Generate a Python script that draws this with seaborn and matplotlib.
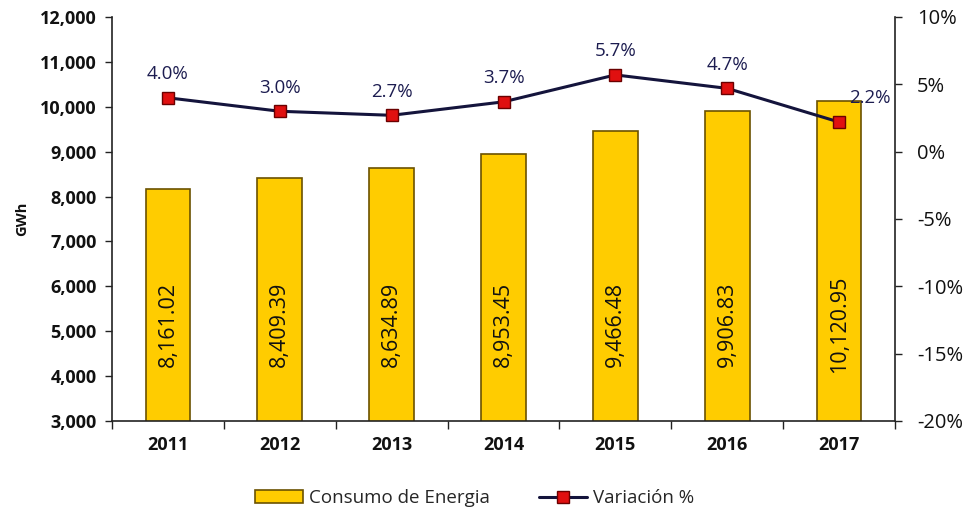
import matplotlib
matplotlib.use("Agg")
import matplotlib.pyplot as plt
import seaborn as sns
import numpy as np
import pandas as pd
from matplotlib.ticker import FuncFormatter, FixedLocator
from matplotlib.patches import Patch
from matplotlib.lines import Line2D

years = ["2011", "2012", "2013", "2014", "2015", "2016", "2017"]
consumo = [8161.02, 8409.39, 8634.89, 8953.45, 9466.48, 9906.83, 10120.95]
variacion = [4.0, 3.0, 2.7, 3.7, 5.7, 4.7, 2.2]
bar_labels = ["8,161.02", "8,409.39", "8,634.89", "8,953.45", "9,466.48", "9,906.83", "10,120.95"]
var_labels = ["4.0%", "3.0%", "2.7%", "3.7%", "5.7%", "4.7%", "2.2%"]

sns.set_theme(style="white")
plt.rcParams["font.family"] = ["Open Sans", "DejaVu Sans"]

df = pd.DataFrame({"year": years, "consumo": consumo, "variacion": variacion})

fig = plt.figure(figsize=(9.68, 5.14), dpi=100)
ax = fig.add_axes([112/968, 1-421/514, (895-112)/968, (421-17)/514])

sns.barplot(data=df, x="year", y="consumo", ax=ax, color="#FFCC00",
            width=0.4, edgecolor="#6b5200", linewidth=1.2, saturation=1)
ax.set_ylim(3000, 12000)
ax.set_xlim(-0.5, len(years) - 0.5)
ax.set_yticks(np.arange(3000, 12001, 1000))
ax.yaxis.set_major_formatter(FuncFormatter(lambda v, p: f"{int(v):,}"))
ax.set_xlabel("")
ax.set_ylabel("GWh", fontsize=10.5, fontweight="bold", color="#111111", labelpad=8)
for lab in ax.get_yticklabels():
    lab.set_fontweight("bold")
for lab in ax.get_xticklabels():
    lab.set_fontweight("bold")
ax.tick_params(axis="y", which="major", direction="out", length=5, width=1,
               color="#222222", labelsize=13, labelcolor="#111111", left=True, pad=6)
ax.tick_params(axis="x", which="major", length=0, labelsize=13, labelcolor="#111111", pad=11)
ax.xaxis.set_minor_locator(FixedLocator(np.arange(-0.5, len(years), 1.0)))
ax.tick_params(axis="x", which="minor", direction="out", length=6, width=1,
               color="#222222", bottom=True)
for s in ["top", "right"]:
    ax.spines[s].set_visible(False)
for s in ["left", "bottom"]:
    ax.spines[s].set_color("#222222")
    ax.spines[s].set_linewidth(1.2)

for i, lab in enumerate(bar_labels):
    ax.text(i, 5150, lab, rotation=90, ha="center", va="center",
            fontsize=15.5, color="#111111")

ax2 = ax.twinx()
sns.lineplot(data=df, x="year", y="variacion", ax=ax2, color="#14143c",
             linewidth=2.2, marker="s", markersize=9,
             markerfacecolor="#e01010", markeredgecolor="#6a0000",
             markeredgewidth=1.0, sort=False)
ax2.set_ylim(-20, 10)
ax2.set_xlim(-0.5, len(years) - 0.5)
ax2.set_yticks(np.arange(-20, 11, 5))
ax2.yaxis.set_major_formatter(FuncFormatter(lambda v, p: f"{int(v)}%"))
ax2.set_ylabel("")
ax2.set_xlabel("")
ax2.tick_params(axis="y", direction="out", length=5, width=1, color="#222222",
                labelsize=14.5, labelcolor="#111111", right=True, pad=11)
for s in ["top", "left", "bottom"]:
    ax2.spines[s].set_visible(False)
ax2.spines["right"].set_color("#222222")
ax2.spines["right"].set_linewidth(1.2)

for i, (v, lab) in enumerate(zip(variacion, var_labels)):
    dx = 22 if i == len(years) - 1 else 0
    ax2.annotate(lab, (i, v), xytext=(dx, 17), textcoords="offset points",
                 ha="center", va="center", fontsize=13.5, color="#1c1c50")

handles = [Patch(facecolor="#FFCC00", edgecolor="#6b5200", linewidth=1.2),
           Line2D([0], [0], color="#14143c", linewidth=2.2, marker="s", markersize=9,
                  markerfacecolor="#e01010", markeredgecolor="#6a0000")]
fig.legend(handles, ["Consumo de Energia", "Variación %"], loc="lower center",
           bbox_to_anchor=(0.49, -0.02), ncol=2, frameon=False, fontsize=13.5,
           handlelength=2.6, columnspacing=2.6, handletextpad=0.3)

fig.savefig("out.png", dpi=100)
